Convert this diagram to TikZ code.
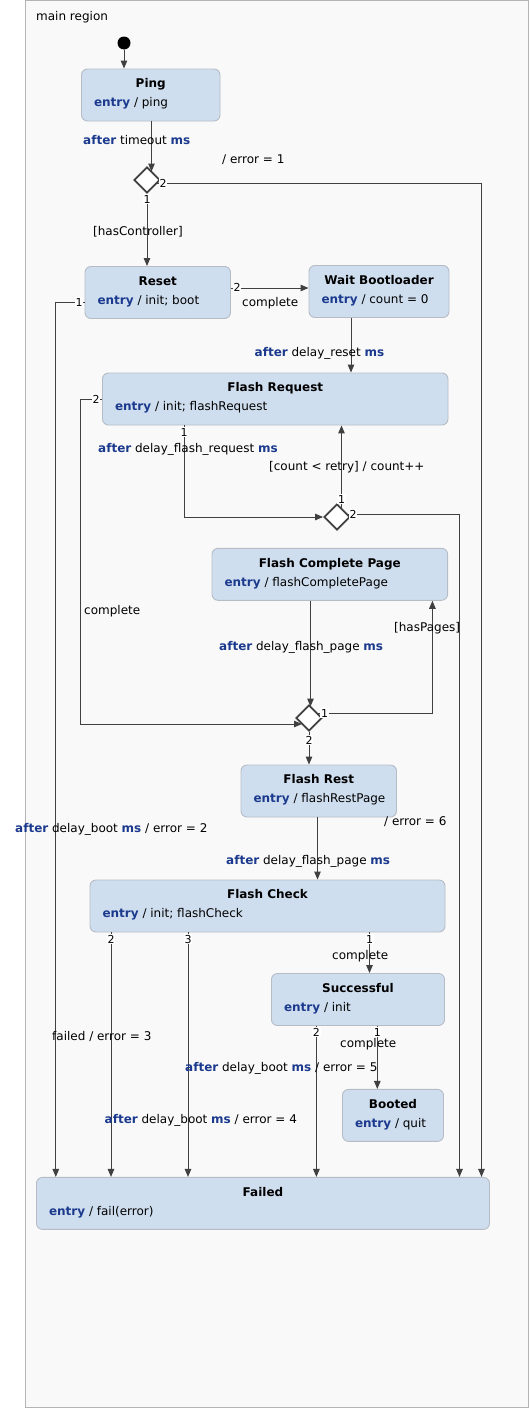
\documentclass[tikz,border=0pt]{standalone}
\usepackage{fontspec}
\setmainfont{DejaVu Sans}
\usetikzlibrary{
  arrows.meta,
  shapes.geometric,
  calc,
  positioning
}

\definecolor{regionfill}{HTML}{F9F9F9}
\definecolor{regionline}{HTML}{B4B4B4}
\definecolor{statefill}{HTML}{CFDEEF}
\definecolor{stateline}{HTML}{B5BCC6}
\definecolor{kwblue}{HTML}{1B3A8E}
\definecolor{wire}{HTML}{404040}
\newcommand{\kw}[1]{\textcolor{kwblue}{\textbf{#1}}}

\begin{document}
\begin{tikzpicture}[
          x=1pt, y=-1pt,
          every node/.style={
              font=\fontsize{12}{14}\selectfont,
              inner sep=0pt
            },state/.style={
              draw=stateline,
              fill=statefill,
              line width=0.9pt,
              rounded corners=6pt,
              minimum height=52pt
            },title/.style={
              font=\fontsize{12}{14}\selectfont\bfseries,
              anchor=mid,
              yshift=-2.5pt
            },action/.style={
              anchor=mid west,
              yshift=-2.5pt
            },choice/.style={
              diamond,
              draw=wire,
              fill=white,
              line width=1.8pt,
              minimum width=26pt,
              minimum height=26pt
            },trans/.style={
              draw=wire,
              line width=1pt,
              -{Triangle[length=8pt,width=6.5pt]}
            },tlabel/.style={
              anchor=mid west,
              yshift=-2.5pt
            },port/.style={
              font=\fontsize{11}{11}\selectfont,
              fill=white,
              inner sep=0.6pt
            }
        ]
        \useasboundingbox (0,0) rectangle (530,1408);

        % 領域の枠
        \draw[draw=regionline, fill=regionfill, line width=1pt] (25.5,0.5) rectangle (528.5,1407);
        \node[tlabel] (regionname) at (36,15) {main region};

        % 状態
        \node[circle, fill=black, minimum size=13pt] (init) at (124,43) {};
        \node[state, minimum width=138.5pt] (ping) at (150.75,95) {};
        \node[state, minimum width=145.5pt] (reset) at (157.75,292.5) {};
        \node[state, minimum width=140pt] (wait) at (379,291.5) {};
        \node[state, minimum width=345.5pt] (freq) at (275.25,399) {};
        \node[state, minimum width=235.6pt] (fcp) at (329.8,574.3) {};
        \node[state, minimum width=155.5pt] (frest) at (318.75,791) {};
        \node[state, minimum width=355pt] (fcheck) at (267.5,906) {};
        \node[state, minimum width=173pt] (succ) at (358,999.5) {};
        \node[state, minimum width=101pt] (booted) at (393,1115.4) {};
        \node[state, minimum width=453pt] (failed) at (263,1203.4) {};

        \foreach \s/\t/\e in {
            ping/Ping/ping,
            reset/Reset/{init; boot},
            wait/Wait Bootloader/{count = 0},
            freq/Flash Request/{init; flashRequest},
            fcp/Flash Complete Page/flashCompletePage,
            frest/Flash Rest/flashRestPage,
            fcheck/Flash Check/{init; flashCheck},
            succ/Successful/init,
            booted/Booted/quit,
            failed/Failed/fail(error)} {
            \node[title] (\s-title) at ([yshift=-14pt]\s.north) {\t};
            \node[action] (\s-entry) at ([xshift=12.8pt,yshift=-33pt]\s.north west) {\kw{entry} / \e};
          }

        % 選択点
        \node[choice] (c1) at (147,180) {};
        \node[choice] (c2) at (337,517) {};
        \node[choice] (c3) at (309,718) {};

        % 遷移の端点
        \coordinate (c1in) at ($(c1.center)+(4.5,-8.5)$);
        \coordinate (c1out) at ($(c1.center)+(10,3)$);
        \coordinate (c1bend) at (481.5,183);
        \coordinate (rw) at ([yshift=4.5pt]reset.east);
        \coordinate (rf) at (55.8,302);
        \coordinate (wf) at (351,0);
        \coordinate (fq1) at (184,517);
        \coordinate (fq2) at (80.5,399);
        \coordinate (c2out1) at ($(c2.center)+(4.5,-8.5)$);
        \coordinate (c2out2) at ($(c2.center)+(10,-3)$);
        \coordinate (c2bend) at (459.5,514);
        \coordinate (c3in1) at ($(c3.center)+(1.5,-11.5)$);
        \coordinate (c3in2) at ($(c3.center)+(-7,6)$);
        \coordinate (c3out1) at ($(c3.center)+(8.5,-4.5)$);
        \coordinate (c3bend) at (432.4,713.5);
        \coordinate (rc) at (317.5,0);

        % 遷移
        \draw[trans] (init) -- (init |- ping.north);
        \draw[trans] (ping.south -| c1in) -- (c1in);
        \draw[trans] (c1out) -- (c1bend) -- (c1bend |- failed.north);
        \draw[trans] (c1.south) -- (c1.south |- reset.north);
        \draw[trans] (rw) -- (rw -| wait.west);
        \draw[trans] (rf -| reset.west) -- (rf) -- (rf |- failed.north);
        \draw[trans] (wf |- wait.south) -- (wf |- freq.north);
        \draw[trans] (fq1 |- freq.south) -- (fq1) -- (c2.west);
        \draw[trans] (c2out1) -- (c2out1 |- freq.south);
        \draw[trans] (c2out2) -- (c2bend) -- (c2bend |- failed.north);
        \draw[trans] (freq.west) -- (fq2) |- (c3in2);
        \draw[trans] (c3in1 |- fcp.south) -- (c3in1);
        \draw[trans] (c3out1) -- (c3bend) -- (c3bend |- fcp.south);
        \draw[trans] (c3.south) -- (c3.south |- frest.north);
        \draw[trans] (rc |- frest.south) -- (rc |- fcheck.north);
        \foreach \i/\x/\a/\b in {1/111/fcheck/failed, 2/188/fcheck/failed, 3/369.5/fcheck/succ,
            4/316.4/succ/failed, 5/377.3/succ/booted} {
            \coordinate (drop\i) at (\x,0);
            \draw[trans] (drop\i |- \a.south) -- (drop\i |- \b.north);
          }

        % 優先順位
        \node[port] (c1p2) at (163,183) {2};
        \node[port] (c1p1) at (147,199) {1};
        \node[port] (resetp2) at (237,287.5) {2};
        \node[port] (resetp1) at (79,302) {1};
        \node[port] (freqp2) at (96,399) {2};
        \node[port] (freqp1) at (184,432) {1};
        \node[port] (c2p1) at (341.5,499) {1};
        \node[port] (c2p2) at (353,514) {2};
        \node[port] (c3p1) at (324.5,713) {1};
        \node[port] (c3p2) at (309,740) {2};
        \node[port] (fcheckp2) at (111,939) {2};
        \node[port] (fcheckp3) at (188,939) {3};
        \node[port] (fcheckp1) at (369.5,939) {1};
        \node[port] (succp2) at (316.4,1032) {2};
        \node[port] (succp1) at (377.3,1032) {1};

        % 遷移のラベル
        \node[tlabel] (timeout) at (83,139) {\kw{after} timeout \kw{ms}};
        \node[tlabel] (error1) at (222,158) {/ error = 1};
        \node[tlabel] (hascontroller) at (93,230) {[hasController]};
        \node[tlabel] (resetdone) at (242,301) {complete};
        \node[tlabel] (error2) at (15,827) {\kw{after} delay\_boot \kw{ms} / error = 2};
        \node[tlabel] (delayreset) at (254.5,351) {\kw{after} delay\_reset \kw{ms}};
        \node[tlabel] (delayrequest) at (98,447) {\kw{after} delay\_flash\_request \kw{ms}};
        \node[tlabel] (retry) at (269,465) {[count < retry] / count++};
        \node[tlabel] (requestdone) at (84,609) {complete};
        \node[tlabel] (delaypage) at (219,645) {\kw{after} delay\_flash\_page \kw{ms}};
        \node[tlabel] (haspages) at (394,626) {[hasPages]};
        \node[tlabel] (error6) at (384,820) {/ error = 6};
        \node[tlabel] (delayrest) at (226,859) {\kw{after} delay\_flash\_page \kw{ms}};
        \node[tlabel] (checkdone) at (332,954) {complete};
        \node[tlabel] (error3) at (52,1035) {failed / error = 3};
        \node[tlabel] (error4) at (104.5,1118) {\kw{after} delay\_boot \kw{ms} / error = 4};
        \node[tlabel] (error5) at (185,1066) {\kw{after} delay\_boot \kw{ms} / error = 5};
        \node[tlabel] (successdone) at (340,1042) {complete};

      \end{tikzpicture}
\end{document}
